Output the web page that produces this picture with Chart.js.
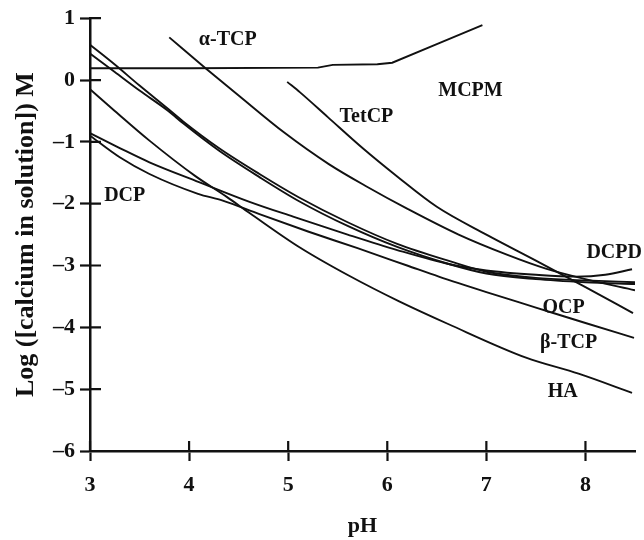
<!DOCTYPE html>
<html><head><meta charset="utf-8">
<script src="https://cdn.jsdelivr.net/npm/chart.js@4.4.1/dist/chart.umd.min.js"></script>
<style>html,body{margin:0;padding:0;background:#fff}canvas{display:block}</style>
</head><body>
<canvas id="c" width="644" height="540"></canvas>
<script>
// ---- axes ----
const xTicks = [3, 4, 5, 6, 7, 8];
const yTicks = [1, 0, -1, -2, -3, -4, -5, -6];
const yTickLabels = ['1', '0', '–1', '–2', '–3', '–4', '–5', '–6'];

// ---- curves: pH and log([Ca]) values ----
const mcpmPH  = [3.0, 4.0, 5.3, 5.45, 5.9, 6.05, 6.5, 6.96];
const mcpmLog = [0.19, 0.19, 0.2, 0.245, 0.255, 0.28, 0.58, 0.89];

const atcpPH  = [3.8, 4.16, 4.5, 4.96, 5.41, 5.8, 6.2, 6.72, 7.2, 7.6, 8.0, 8.5];
const atcpLog = [0.69, 0.2, -0.25, -0.85, -1.36, -1.73, -2.08, -2.5, -2.82, -3.05, -3.22, -3.4];

const tetcpPH  = [4.99, 5.12, 5.4, 5.75, 6.1, 6.5, 7.0, 7.5, 8.0, 8.48];
const tetcpLog = [-0.03, -0.2, -0.6, -1.1, -1.56, -2.05, -2.5, -2.92, -3.35, -3.77];

const haPH  = [3.0, 3.25, 3.6, 4.06, 4.38, 4.61, 5.11, 5.62, 6.12, 6.62, 7.4, 7.93, 8.47];
const haLog = [-0.15, -0.5, -0.98, -1.55, -1.89, -2.15, -2.7, -3.17, -3.58, -3.95, -4.49, -4.75, -5.06];

const ocpPH  = [3.0, 3.25, 3.5, 3.79, 3.94, 4.3, 4.71, 5.11, 5.6, 6.1, 6.63, 7.0, 7.5, 8.0, 8.5];
const ocpLog = [0.57, 0.25, -0.09, -0.47, -0.67, -1.1, -1.52, -1.9, -2.3, -2.65, -2.93, -3.1, -3.2, -3.24, -3.27];

const dcpPH  = [3.0, 3.25, 3.5, 3.79, 3.94, 4.3, 4.71, 5.11, 5.6, 6.1, 6.63, 7.0, 7.5, 8.0, 8.5];
const dcpLog = [0.43, 0.13, -0.17, -0.5, -0.7, -1.14, -1.57, -1.96, -2.36, -2.7, -2.98, -3.13, -3.22, -3.27, -3.3];

const dcpdPH  = [3.0, 3.3, 3.6, 4.1, 4.61, 5.05, 5.6, 6.1, 6.63, 7.0, 7.5, 7.9, 8.2, 8.47];
const dcpdLog = [-0.86, -1.1, -1.33, -1.65, -1.97, -2.21, -2.5, -2.75, -2.98, -3.08, -3.15, -3.18, -3.15, -3.06];

const btcpPH  = [3.0, 3.3, 3.6, 4.09, 4.34, 4.71, 5.2, 5.7, 6.2, 6.52, 7.0, 7.5, 8.0, 8.49];
const btcpLog = [-0.9, -1.25, -1.52, -1.84, -1.95, -2.17, -2.45, -2.72, -3.0, -3.18, -3.43, -3.68, -3.93, -4.17];

// ---- curve labels (anchored in data units) ----
const labelText = ['α-TCP', 'MCPM', 'TetCP', 'DCP', 'DCPD', 'OCP', 'β-TCP', 'HA'];
const labelPH   = [4.39, 6.84, 5.79, 3.35, 8.29, 7.78, 7.83, 7.77];
const labelLog  = [0.65, -0.17, -0.59, -1.87, -2.79, -3.69, -4.25, -5.04];

function pts(xs, ys) { return xs.map((x, i) => ({ x: x, y: ys[i] })); }

const INK = '#111111';
const FONT = "'Liberation Serif', 'Times New Roman', serif";

function curve(name, xs, ys, straight) {
  return {
    label: name,
    data: pts(xs, ys),
    borderColor: INK,
    borderWidth: 1.9,
    pointRadius: 0,
    fill: false,
    tension: straight ? 0 : 0.4,
    cubicInterpolationMode: straight ? 'default' : 'monotone'
  };
}

const innerTicks = {
  id: 'innerTicks',
  afterDraw(chart) {
    const { ctx, chartArea, scales } = chart;
    ctx.save();
    ctx.strokeStyle = INK;
    ctx.lineWidth = 2.2;
    ctx.beginPath();
    xTicks.forEach(v => {
      const px = scales.x.getPixelForValue(v);
      ctx.moveTo(px, chartArea.bottom);
      ctx.lineTo(px, chartArea.bottom - 10);
    });
    yTicks.forEach(v => {
      const py = scales.y.getPixelForValue(v);
      ctx.moveTo(chartArea.left, py);
      ctx.lineTo(chartArea.left + 11, py);
    });
    ctx.stroke();
    ctx.restore();
  }
};

const curveLabels = {
  id: 'curveLabels',
  afterDatasetsDraw(chart) {
    const { ctx, scales } = chart;
    ctx.save();
    ctx.fillStyle = INK;
    ctx.font = 'bold 20px ' + FONT;
    ctx.textAlign = 'center';
    ctx.textBaseline = 'middle';
    labelText.forEach((t, i) => {
      ctx.fillText(t, scales.x.getPixelForValue(labelPH[i]), scales.y.getPixelForValue(labelLog[i]));
    });
    ctx.restore();
  }
};

new Chart(document.getElementById('c'), {
  type: 'line',
  data: {
    datasets: [
      curve('MCPM', mcpmPH, mcpmLog, true),
      curve('α-TCP', atcpPH, atcpLog),
      curve('TetCP', tetcpPH, tetcpLog),
      curve('HA', haPH, haLog),
      curve('OCP', ocpPH, ocpLog),
      curve('DCP', dcpPH, dcpLog),
      curve('DCPD', dcpdPH, dcpdLog),
      curve('β-TCP', btcpPH, btcpLog)
    ]
  },
  options: {
    responsive: false,
    animation: false,
    devicePixelRatio: 1,
    layout: { padding: { top: 15, right: 9, left: 0, bottom: 0 } },
    plugins: { legend: { display: false }, tooltip: { enabled: false } },
    scales: {
      x: {
        type: 'linear',
        min: 3, max: 8.5,
        afterBuildTicks: s => { s.ticks = xTicks.map(v => ({ value: v })); },
        afterFit: s => { s.height = 89; },
        border: { display: true, color: INK, width: 2.5 },
        grid: { display: true, drawOnChartArea: false, drawTicks: true, tickLength: 10, tickWidth: 2.2, tickColor: INK, color: INK },
        ticks: { color: INK, padding: 11, font: { family: FONT, size: 22, weight: 'bold' }, maxRotation: 0 },
        title: { display: true, text: 'pH', color: INK, padding: { top: 0, bottom: 0 }, font: { family: FONT, size: 22, weight: 'bold' } }
      },
      y: {
        type: 'linear',
        min: -6, max: 1,
        afterBuildTicks: s => { s.ticks = yTicks.map(v => ({ value: v })); },
        afterFit: s => { s.width = 90; },
        border: { display: true, color: INK, width: 2.5 },
        grid: { display: true, drawOnChartArea: false, drawTicks: true, tickLength: 10, tickWidth: 2.2, tickColor: INK, color: INK },
        ticks: {
          color: INK, padding: 5, font: { family: FONT, size: 22, weight: 'bold' },
          callback: v => yTickLabels[yTicks.indexOf(v)]
        },
        title: { display: true, text: 'Log ([calcium in solution]) M', color: INK, padding: { top: 11, bottom: 0 }, font: { family: FONT, size: 26, weight: 'bold' } }
      }
    }
  },
  plugins: [innerTicks, curveLabels]
});
</script>
</body></html>
